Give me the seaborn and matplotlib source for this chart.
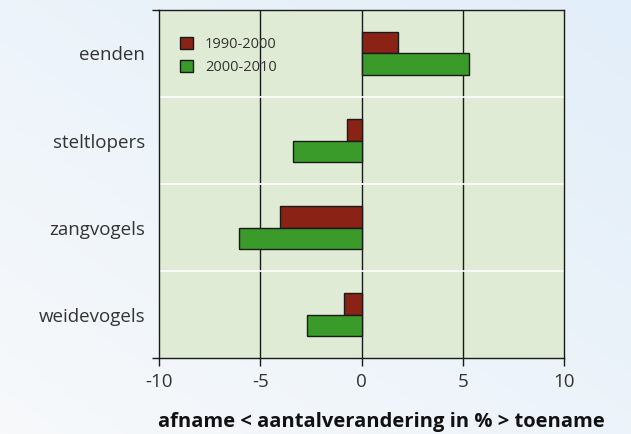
import numpy as np
import pandas as pd
import matplotlib
matplotlib.use("Agg")
import matplotlib.pyplot as plt
import seaborn as sns

# data
categories = ["eenden", "steltlopers", "zangvogels", "weidevogels"]
periods = ["1990-2000", "2000-2010"]
change_1990_2000 = [1.8, -0.7, -4.05, -0.85]
change_2000_2010 = [5.3, -3.4, -6.05, -2.7]
x_ticks = [-10, -5, 0, 5, 10]

df = pd.DataFrame({
    "soort": categories * 2,
    "periode": [periods[0]] * len(categories) + [periods[1]] * len(categories),
    "verandering": change_1990_2000 + change_2000_2010,
})

sns.set_theme(style="white")
plt.rcParams["font.family"] = ["Open Sans", "DejaVu Sans"]

fig = plt.figure(figsize=(6.31, 4.34), dpi=100)

# light blue gradient background
bg = fig.add_axes([0, 0, 1, 1], zorder=-10)
gx = np.linspace(0, 1, 200)
gy = np.linspace(0, 1, 200)
gxx, gyy = np.meshgrid(gx, gy)
grad = 0.5 * gxx + 0.5 * gyy
cmap = matplotlib.colors.LinearSegmentedColormap.from_list("bg", ["#f7f9fb", "#e2eef9"])
bg.imshow(grad, cmap=cmap, aspect="auto", origin="lower", extent=[0, 1, 0, 1])
bg.axis("off")

ax = fig.add_axes([0.252, 0.175, 0.642, 0.802])
ax.set_facecolor("#e0ebd5")

sns.barplot(data=df, x="verandering", y="soort", hue="periode", order=categories,
            hue_order=periods, palette=["#8a2315", "#3a9a2a"], saturation=1,
            width=0.5, edgecolor="#1a1a1a", linewidth=1.0, orient="h", ax=ax, zorder=3)

for v in [-5, 0, 5]:
    ax.axvline(v, color="#1a1a1a", lw=1.0, zorder=1)
for s in [0.5, 1.5, 2.5]:
    ax.axhline(s, color="white", lw=1.2, zorder=1)

ax.set_xlim(-10, 10)
ax.set_ylim(3.5, -0.5)
ax.set_xticks(x_ticks)
ax.set_xticklabels([str(t) for t in x_ticks], fontsize=13.5, color="#333333")
ax.set_yticks(range(len(categories)))
ax.set_yticklabels(categories, fontsize=13.5, color="#333333")
ax.set_yticks([-0.5, 3.5], minor=True)
ax.tick_params(axis="y", which="major", length=0, pad=10)
ax.tick_params(axis="y", which="minor", length=5, width=1.0, color="#1a1a1a",
               left=True, direction="out")
ax.tick_params(axis="x", length=6, width=1.0, color="#1a1a1a", direction="out",
               bottom=True, pad=5)
ax.set_ylabel("")
ax.set_xlabel("afname < aantalverandering in % > toename", fontsize=14.5,
              fontweight="bold", color="#111111")
ax.xaxis.set_label_coords(0.548, -0.155)

for side in ["left", "bottom", "top", "right"]:
    ax.spines[side].set_visible(True)
    ax.spines[side].set_color("#1a1a1a")
    ax.spines[side].set_linewidth(1.0)

handles, labels = ax.get_legend_handles_labels()
ax.legend(handles, labels, loc="upper left", bbox_to_anchor=(0.02, 0.96),
          frameon=False, fontsize=10.5, handlelength=0.9, handleheight=0.9,
          handletextpad=0.8, labelspacing=0.55, labelcolor="#333333")

fig.savefig("out.png", dpi=100)
